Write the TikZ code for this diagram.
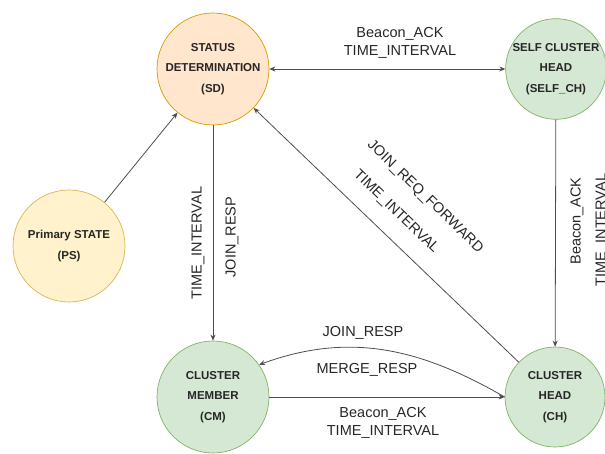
\documentclass[tikz,border=0pt]{standalone}
\usepackage{fontspec}
\setmainfont{Liberation Sans}
\usetikzlibrary{arrows.meta}
\definecolor{SDColor}{HTML}{FFE6CC}
\definecolor{SDLine}{HTML}{D79B00}
\definecolor{PSColor}{HTML}{FFF2CC}
\definecolor{PSLine}{HTML}{D6B656}
\definecolor{CHColor}{HTML}{D5E8D4}
\definecolor{CHLine}{HTML}{82B366}
\definecolor{EdgeColor}{HTML}{4D4D4D}
\tikzset{
  stateNode/.style={circle, draw, line width=0.7pt, align=center, inner sep=0pt,
    font=\fontsize{11.5}{20.5}\selectfont\bfseries, text=black!85},
  edgeLine/.style={draw=EdgeColor, line width=0.8pt, >={Stealth[length=6pt,width=5pt]}, ->},
  edgeLabel/.style={font=\fontsize{14.5}{18.5}\selectfont, text=black!85, align=center}
}

\begin{document}
\begin{tikzpicture}[x=1pt,y=1pt]
  \useasboundingbox (0,0) rectangle (605,454);
  % states
  \node[stateNode, fill=SDColor, draw=SDLine, minimum size=112pt] (SD) at (213,385) {STATUS\\DETERMINATION\\(SD)};
  \node[stateNode, fill=CHColor, draw=CHLine, minimum size=100pt] (SELF) at (556,385) {SELF CLUSTER\\HEAD\\(SELF\_CH)};
  \node[stateNode, fill=PSColor, draw=PSLine, minimum size=112pt] (PS) at (69,208) {Primary STATE\\(PS)};
  \node[stateNode, fill=CHColor, draw=CHLine, minimum size=112pt] (CM) at (213,57) {CLUSTER\\MEMBER\\(CM)};
  \node[stateNode, fill=CHColor, draw=CHLine, minimum size=100pt] (CH) at (555,57) {CLUSTER\\HEAD\\(CH)};

  % transitions
  \draw[edgeLine] (PS) -- (SD);
  \draw[edgeLine, <->] (SD) -- (SELF);
  \draw[edgeLine] (SD) -- (CM);
  \draw[edgeLine] (SELF) -- (CH);
  \draw[edgeLine] (CH) -- (SD);
  \draw[edgeLine] (CM) -- (CH);
  \draw[edgeLine] (CH.west) to[out=150, in=20] (CM.35);

  % labels
  \node[edgeLabel] (ackTop) at (400,411) {Beacon\_ACK\\TIME\_INTERVAL};
  \node[edgeLabel, rotate=90] (tiDown) at (198,211) {TIME\_INTERVAL};
  \node[edgeLabel, rotate=90] (joinDown) at (232,217) {JOIN\_RESP};
  \node[edgeLabel, rotate=90] (ackRight) at (577,233) {Beacon\_ACK};
  \node[edgeLabel, rotate=90] (tiRight) at (602,224) {TIME\_INTERVAL};
  \node[edgeLabel, rotate=-44] (fwdDiag) at (425,257) {JOIN\_REQ\_FORWARD};
  \node[edgeLabel, rotate=-44] (tiDiag) at (396,242) {TIME\_INTERVAL};
  \node[edgeLabel] (joinCurve) at (363,121) {JOIN\_RESP};
  \node[edgeLabel] (mergeCurve) at (367,84) {MERGE\_RESP};
  \node[edgeLabel] (ackBottom) at (383,31) {Beacon\_ACK\\TIME\_INTERVAL};
\end{tikzpicture}
\end{document}
